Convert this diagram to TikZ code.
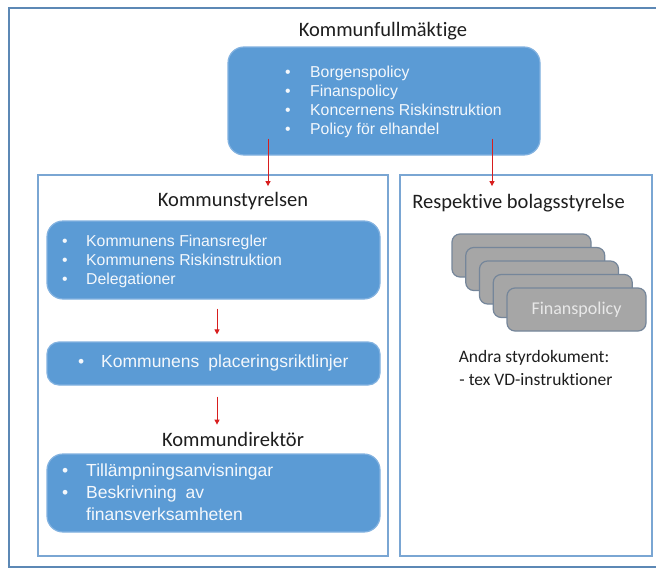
\documentclass[tikz,border=0pt]{standalone}
\usepackage{fontspec}
\setmainfont{Carlito}[Ligatures=NoCommon]
\newfontfamily\arialf{Liberation Sans}
\usetikzlibrary{arrows.meta}
\definecolor{boxblue}{HTML}{5B9BD5}
\definecolor{boxedge}{HTML}{82B2E0}
\definecolor{frameblue}{HTML}{7AA6D3}
\definecolor{outerblue}{HTML}{5C88B5}
\definecolor{arrowred}{HTML}{D81E1E}
\definecolor{grayfill}{HTML}{A6A6A6}
\definecolor{grayedge}{HTML}{75869A}
\definecolor{graytext}{HTML}{E8E8E8}
\definecolor{boxtext}{HTML}{F4F8FC}
\definecolor{titletext}{HTML}{1E1E1E}
\newcommand{\mybul}[1]{\makebox[#1][l]{•}}
\tikzset{
  bluebox/.style={draw=boxedge, line width=1.2pt, fill=boxblue, rounded corners=16pt, inner sep=0pt},
  framebox/.style={draw=frameblue, line width=1.8pt, inner sep=0pt},
  titletxt/.style={font=\fontsize{20.5}{24}\selectfont, text=titletext, inner sep=0pt},
  listtxt/.style={font=\arialf\fontsize{15.8}{19}\selectfont, text=boxtext, align=left, inner sep=0pt, anchor=west},
  biglisttxt/.style={font=\arialf\fontsize{17.5}{22}\selectfont, text=boxtext, align=left, inner sep=0pt, anchor=west},
  arr/.style={draw=arrowred, line width=1pt, -{Triangle[length=5pt,width=5pt]}},
  graybox/.style={draw=grayedge, line width=1.2pt, fill=grayfill, rounded corners=8pt, minimum width=139pt, minimum height=43pt, inner sep=0pt},
  plaintxt/.style={font=\fontsize{17.5}{23}\selectfont, text=titletext, align=center, inner sep=0pt}
}
\begin{document}
\begin{tikzpicture}[x=1pt,y=-1pt]
\useasboundingbox (0,0) rectangle (656,570);
\clip (0,0) rectangle (656,570);
\fill[white] (0,0) rectangle (656,570);
% outer frame
\node[draw=outerblue, line width=2.4pt, minimum width=655pt, minimum height=559pt, inner sep=0pt] (outer) at (336.5,287.5) {};
% top
\node[titletxt] (kftitle) at (383,31) {Kommunfullmäktige};
\node[bluebox, minimum width=312pt, minimum height=108pt] (kfbox) at (384,101) {};
\node[listtxt] (kflist) at (285,101.5) {\mybul{25pt}Borgenspolicy\\\mybul{25pt}Finanspolicy\\\mybul{25pt}Koncernens Riskinstruktion\\\mybul{25pt}Policy för elhandel};
% frames
\node[framebox, minimum width=350pt, minimum height=381pt] (ksframe) at (213,365.5) {};
\node[framebox, minimum width=252pt, minimum height=381pt] (bsframe) at (526,365.5) {};
% left column
\node[titletxt] (kstitle) at (233,201) {Kommunstyrelsen};
\node[bluebox, minimum width=333pt, minimum height=78pt] (ksbox) at (213.5,260) {};
\node[listtxt] (kslist) at (62,261) {\mybul{24pt}Kommunens Finansregler\\\mybul{24pt}Kommunens Riskinstruktion\\\mybul{24pt}Delegationer};
\node[bluebox, rounded corners=12pt, minimum width=333pt, minimum height=43pt] (plbox) at (213.5,363.5) {};
\node[biglisttxt] (pltext) at (78,363) {\mybul{23pt}Kommunens\hspace{9pt}placeringsriktlinjer};
\node[titletxt] (kdtitle) at (233,439) {Kommundirektör};
\node[bluebox, minimum width=333pt, minimum height=78pt] (kdbox) at (213.5,493) {};
\node[biglisttxt] (kdlist) at (62,492.5) {\mybul{24pt}Tillämpningsanvisningar\\\mybul{24pt}Beskrivning\hspace{9pt}av\\\hspace*{24pt}finansverksamheten};
% right column
\node[titletxt] (bstitle) at (518.5,203) {Respektive bolagsstyrelse};
\node[graybox] (g1) at (521.5,255.5) {};
\node[graybox] (g2) at (535.25,269) {};
\node[graybox] (g3) at (549,282.5) {};
\node[graybox] (g4) at (562.75,296) {};
\node[graybox, font=\fontsize{18}{20}\selectfont, text=graytext] (g5) at (576.5,309.5) {Finanspolicy};
\node[plaintxt] (andra) at (534,368) {Andra styrdokument:\\\ - tex VD-instruktioner};
% arrows
\draw[arr] ([xshift=-116pt,yshift=17pt]kfbox.south) -- ([xshift=55pt,yshift=-12pt]ksframe.north);
\draw[arr] ([xshift=108pt,yshift=17pt]kfbox.south) -- ([xshift=-34pt,yshift=-12pt]bsframe.north);
\draw[arr, shorten <=9pt, shorten >=7pt] ([xshift=3.5pt]ksbox.south) -- ([xshift=3.5pt]plbox.north);
\draw[arr, shorten <=11pt, shorten >=7pt] ([xshift=3.5pt]plbox.south) -- ([xshift=3.5pt]plbox.south |- kdtitle.north);
\end{tikzpicture}
\end{document}
